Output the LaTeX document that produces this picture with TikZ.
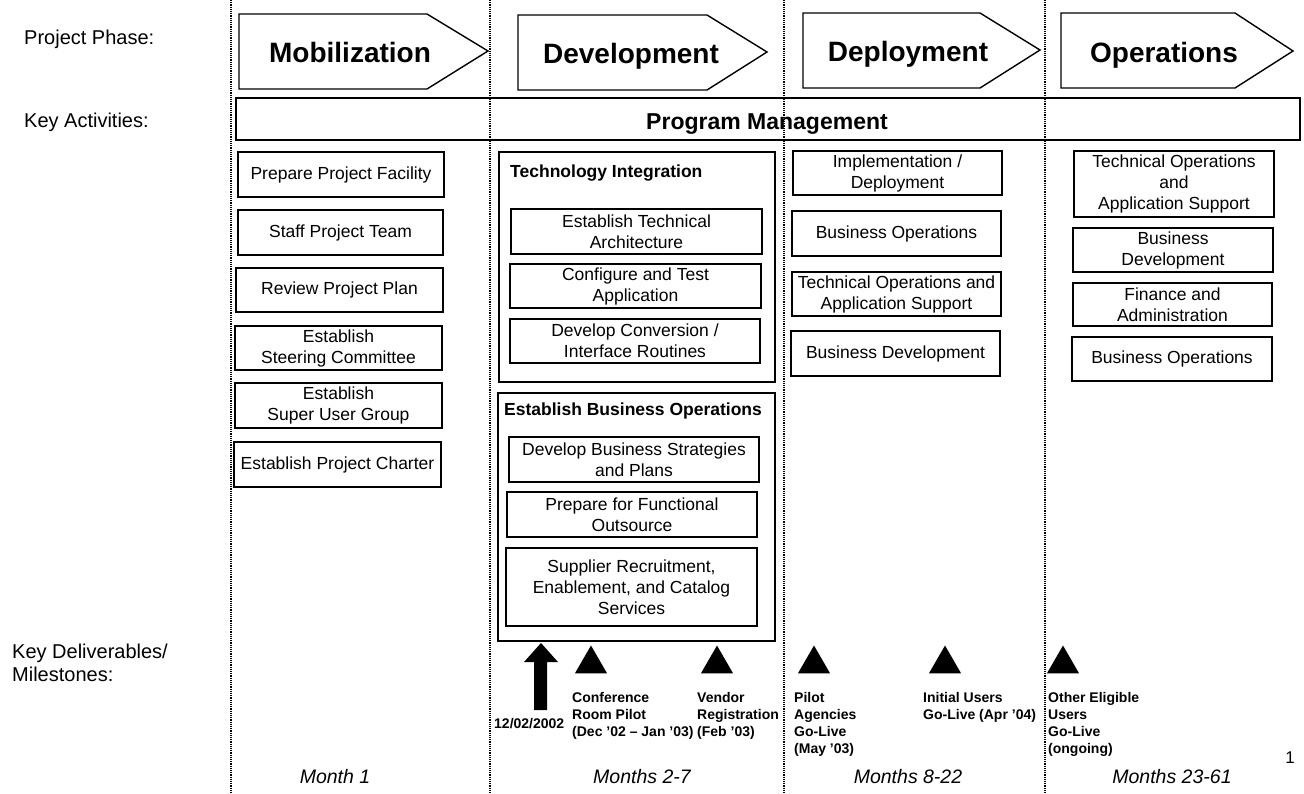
\documentclass[tikz,border=0pt]{standalone}
\usepackage{fontspec}
\setmainfont{Liberation Sans}
\usetikzlibrary{shapes.geometric}

\tikzset{
  rule/.style={line width=1.1pt, dash pattern=on 1.1pt off 1.1pt},
  phase/.style={draw, line width=1.4pt, line join=miter},
  phasetext/.style={anchor=base, inner sep=0pt, font=\fontsize{28}{32}\selectfont\bfseries},
  pmtext/.style={anchor=base, inner sep=0pt, font=\fontsize{23}{26}\selectfont\bfseries},
  actbox/.style={draw, line width=1.4pt, inner sep=0pt, outer sep=0pt, align=center,
                 font=\fontsize{17.5}{21}\selectfont},
  groupbox/.style={draw, line width=1.4pt, inner sep=0pt, outer sep=0pt},
  grouptitle/.style={anchor=base west, inner sep=0pt, font=\fontsize{17.5}{21}\selectfont\bfseries},
  rowlabel/.style={anchor=base west, inner sep=0pt, align=left, font=\fontsize{20}{22.5}\selectfont},
  milestone/.style={regular polygon, regular polygon sides=3, minimum size=37pt,
                    inner sep=0pt, fill=black},
  mstext/.style={anchor=north west, inner sep=0pt, align=left,
                 font=\fontsize{14}{17}\selectfont\bfseries},
  monthtext/.style={anchor=base, inner sep=0pt, font=\fontsize{19.5}{22}\selectfont\itshape},
}

% box given by its corners: \boxat[style]{name}{x1}{y1}{x2}{y2}{text}
\newcommand\boxat[7][actbox]{%
  \node[#1, minimum width={(#5-#3)*1pt}, minimum height={(#6-#4)*1pt}]
    (#2) at ({(#3+#5)/2},{(#4+#6)/2}) {#7};}

\begin{document}
\begin{tikzpicture}[x=1pt, y=-1pt]
\useasboundingbox (0,0) rectangle (1304,793);

% column separators
\foreach \cx [count=\i] in {231,490,784,1045} {
  \coordinate (sep\i top) at (\cx,0);
  \coordinate (sep\i bot) at (\cx,793);
  \draw[rule] (sep\i top) -- (sep\i bot);
}

% row labels (base anchor sits on the last line)
\node[rowlabel] (lblphase) at (24,44) {Project Phase:};
\node[rowlabel] (lblact) at (24,127) {Key Activities:};
\node[rowlabel] (lbldeliv) at (12,681) {Key Deliverables/\\Milestones:};

% phase chevrons
\draw[phase] (239,14) -- (427,14) -- (488,51) -- (427,89) -- (239,89) -- cycle;
\draw[phase] (518,15) -- (707,15) -- (767,52) -- (707,90) -- (518,90) -- cycle;
\draw[phase] (803,13) -- (980,13) -- (1040,50) -- (980,88) -- (803,88) -- cycle;
\draw[phase] (1061,13) -- (1235,13) -- (1293,51) -- (1235,88) -- (1061,88) -- cycle;
\node[phasetext] (mob) at (350,62) {Mobilization};
\node[phasetext] (dev) at (631,63) {Development};
\node[phasetext] (dep) at (908,61) {Deployment};
\node[phasetext] (ops) at (1164,62) {Operations};

% program management bar
\boxat[groupbox]{pmbar}{236}{98}{1300}{140}{}
\node[pmtext] (pm) at (767,129) {Program Management};

% Mobilization activities
\boxat{prep}{238}{152}{444}{197}{Prepare Project Facility}
\boxat{staff}{238}{210}{443}{255}{Staff Project Team}
\boxat{review}{236}{268}{443}{312}{Review Project Plan}
\boxat{steer}{235}{326}{442}{370}{Establish\\Steering Committee}
\boxat{superusr}{235}{383}{442}{428}{Establish\\Super User Group}
\boxat{charter}{234}{442}{441}{487}{Establish Project Charter}

% Development: technology integration
\boxat[groupbox]{techgrp}{499}{152}{775}{382}{}
\node[grouptitle] (techttl) at (510,177) {Technology Integration};
\boxat{arch}{511}{209}{762}{254}{Establish Technical\\Architecture}
\boxat{config}{510}{264}{761}{308}{Configure and Test\\Application}
\boxat{conv}{510}{319}{760}{363}{Develop Conversion /\\Interface Routines}

% Development: business operations
\boxat[groupbox]{busgrp}{498}{393}{775}{641}{}
\node[grouptitle] (busttl) at (504,415) {Establish Business Operations};
\boxat{strat}{509}{437}{759}{482}{Develop Business Strategies\\and Plans}
\boxat{outs}{507}{492}{757}{537}{Prepare for Functional\\Outsource}
\boxat{supp}{506}{548}{757}{626}{Supplier Recruitment,\\Enablement, and Catalog\\Services}

% Deployment activities
\boxat{impl}{793}{151}{1002}{195}{Implementation /\\Deployment}
\boxat{depbo}{792}{211}{1001}{256}{Business Operations}
\boxat{deptech}{792}{272}{1001}{316}{Technical Operations and\\Application Support}
\boxat{depbd}{791}{331}{1000}{376}{Business Development}

% Operations activities
\boxat{opstech}{1074}{151}{1274}{217}{Technical Operations\\and\\Application Support}
\boxat{opsbd}{1073}{228}{1273}{272}{Business\\Development}
\boxat{opsfin}{1073}{283}{1272}{326}{Finance and\\Administration}
\boxat{opsbo}{1072}{337}{1272}{381}{Business Operations}

% milestones
\fill (534,710) -- (534,662) -- (524,662) -- (541,643) -- (558,662) -- (547,662) -- (547,710) -- cycle;
\node[mstext, anchor=base west] (start) at (494,728) {12/02/2002};
\node[milestone] (crp) at (591,664) {};
\node[milestone] (vreg) at (717,664) {};
\node[milestone] (pilot) at (814,664) {};
\node[milestone] (initial) at (945,664) {};
\node[milestone] (other) at (1063,664) {};
\node[mstext] (crptxt) at (572,692) {Conference\\Room Pilot\\(Dec '02 -- Jan '03)};
\node[mstext] (vregtxt) at (697,692) {Vendor\\Registration\\(Feb '03)};
\node[mstext] (pilottxt) at (794,692) {Pilot\\Agencies\\Go-Live\\(May '03)};
\node[mstext] (initialtxt) at (923,692) {Initial Users\\Go-Live (Apr '04)};
\node[mstext] (othertxt) at (1048,692) {Other Eligible\\Users\\Go-Live\\(ongoing)};

% durations
\node[monthtext] (m1) at (335,783) {Month 1};
\node[monthtext] (m2) at (642,783) {Months 2-7};
\node[monthtext] (m3) at (908,783) {Months 8-22};
\node[monthtext] (m4) at (1172,783) {Months 23-61};

% page number
\node[inner sep=0pt, anchor=base, font=\fontsize{17}{20}\selectfont] (pgnum) at (1290,763) {1};
\end{tikzpicture}
\end{document}
